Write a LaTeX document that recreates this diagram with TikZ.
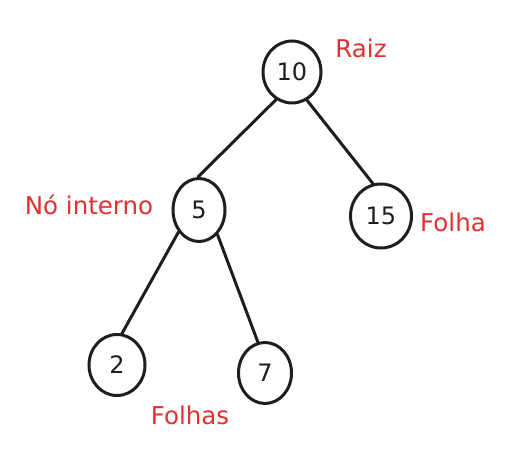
\documentclass[tikz,border=0pt]{standalone}
\usepackage{fontspec}
\setmainfont{DejaVu Sans}
\usetikzlibrary{shapes.geometric}
\definecolor{ink}{HTML}{1E1E1E}
\definecolor{lbl}{HTML}{E03131}
\begin{document}
\begin{tikzpicture}[x=1pt,y=-1pt,
  treenode/.style={ellipse,draw=ink,line width=3pt,inner sep=0pt,text=ink,
    font=\fontsize{24}{28}\selectfont},
  edge/.style={draw=ink,line width=3pt,line cap=round},
  tag/.style={text=lbl,font=\fontsize{24.5}{28}\selectfont,inner sep=0pt}]
\useasboundingbox (0,0) rectangle (512,465);
\node[treenode,minimum width=58pt,minimum height=62pt] (n10) at (292,72) {10};
\node[treenode,minimum width=52pt,minimum height=63pt] (n5) at (199,210) {5};
\node[treenode,minimum width=61pt,minimum height=64pt] (n15) at (381,216) {15};
\node[treenode,minimum width=56pt,minimum height=61pt] (n2) at (117,365) {2};
\node[treenode,minimum width=53pt,minimum height=61pt] (n7) at (265,373) {7};
\draw[edge] (n10.240) -- (n5.92);
\draw[edge] (n10.298) -- (n15.104);
\draw[edge] (n5.227) -- (n2.81);
\draw[edge] (n5.307) -- (n7.103);
\node[tag] (t1) at (361,48) {Raiz};
\node[tag] (t2) at (89,205) {Nó interno};
\node[tag] (t3) at (453,222) {Folha};
\node[tag] (t4) at (190,415) {Folhas};
\end{tikzpicture}
\end{document}
